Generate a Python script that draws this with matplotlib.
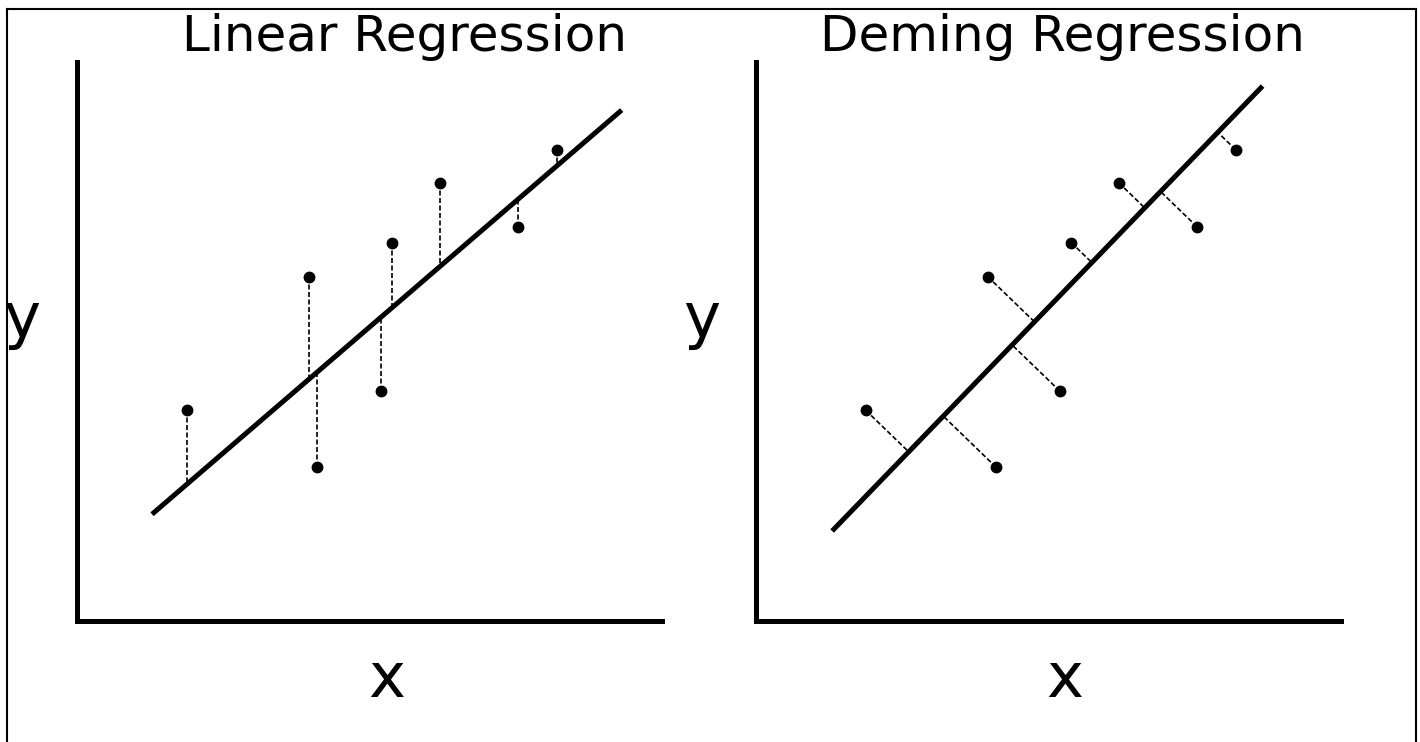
import numpy as np
import matplotlib
matplotlib.use('Agg')
import matplotlib.pyplot as plt
from matplotlib.lines import Line2D

# points shared by both panels (same sample in each)
pts_x = [1.96, 4.14, 4.29, 5.43, 5.63, 6.48, 7.88, 8.57]
pts_y = [3.77, 6.16, 2.75, 4.11, 6.77, 7.84, 7.05, 8.43]

# fitted lines, given by their end points
ols_x = [1.34, 9.73]
ols_y = [1.91, 9.14]
dem_x = [1.36, 9.05]
dem_y = [1.61, 9.57]

titles = ['Linear Regression', 'Deming Regression']

W, H = 1420, 742
fig = plt.figure(figsize=(W / 100, H / 100), dpi=100)

# thin frame round the picture (no bottom edge), pixel coords from the top
for xs, ys in [([7, 7], [H, 8.5]), ([7, 1416], [8.5, 8.5]), ([1416, 1416], [8.5, H])]:
    fig.add_artist(Line2D([x / W for x in xs], [1 - y / H for y in ys],
                          color='black', lw=1.5, transform=fig.transFigure))


def make_ax(left_px):
    ax = fig.add_axes([left_px / W, (H - 621) / H, 585 / W, (621 - 62) / H])
    ax.set_xlim(0, 10.45)
    ax.set_ylim(0, 10)
    for s in ['top', 'right']:
        ax.spines[s].set_visible(False)
    for s in ['left', 'bottom']:
        ax.spines[s].set_linewidth(3.6)
        ax.spines[s].set_capstyle('projecting')
    ax.set_xticks([])
    ax.set_yticks([])
    return ax


def foot_vertical(lx, ly, px, py):
    k = (ly[1] - ly[0]) / (lx[1] - lx[0])
    return px, ly[0] + k * (px - lx[0])


def foot_perp(ax, lx, ly, px, py):
    # perpendicular foot computed on screen, so it looks square on the picture
    t = ax.transData
    a = t.transform((lx[0], ly[0]))
    b = t.transform((lx[1], ly[1]))
    p = t.transform((px, py))
    d = (b - a) / np.hypot(*(b - a))
    f = a + np.dot(p - a, d) * d
    return t.inverted().transform(f)


ax1 = make_ax(77)
ax2 = make_ax(756)

for ax, lx, ly, mode in [(ax1, ols_x, ols_y, 'v'), (ax2, dem_x, dem_y, 'p')]:
    for px, py in zip(pts_x, pts_y):
        if mode == 'v':
            fx, fy = foot_vertical(lx, ly, px, py)
        else:
            fx, fy = foot_perp(ax, lx, ly, px, py)
        ax.plot([px, fx], [py, fy], color='black', lw=1.2,
                linestyle=(0, (3, 1.5)), zorder=2)
    ax.plot(lx, ly, color='black', lw=3.6, solid_capstyle='butt', zorder=3)
    ax.plot(pts_x, pts_y, 'o', color='black', markersize=7.5, zorder=4)

# titles and axis letters
fig.text(405 / W, 1 - 51 / H, titles[0], ha='center', va='baseline', fontsize=36)
fig.text(1062 / W, 1 - 51 / H, titles[1], ha='center', va='baseline', fontsize=36)
fig.text(22 / W, 1 - 337 / H, 'y', ha='center', va='baseline', fontsize=45)
fig.text(702 / W, 1 - 337 / H, 'y', ha='center', va='baseline', fontsize=45)
fig.text(387 / W, 1 - 697 / H, 'x', ha='center', va='baseline', fontsize=45)
fig.text(1065 / W, 1 - 697 / H, 'x', ha='center', va='baseline', fontsize=45)

fig.savefig('out.png', dpi=100)
